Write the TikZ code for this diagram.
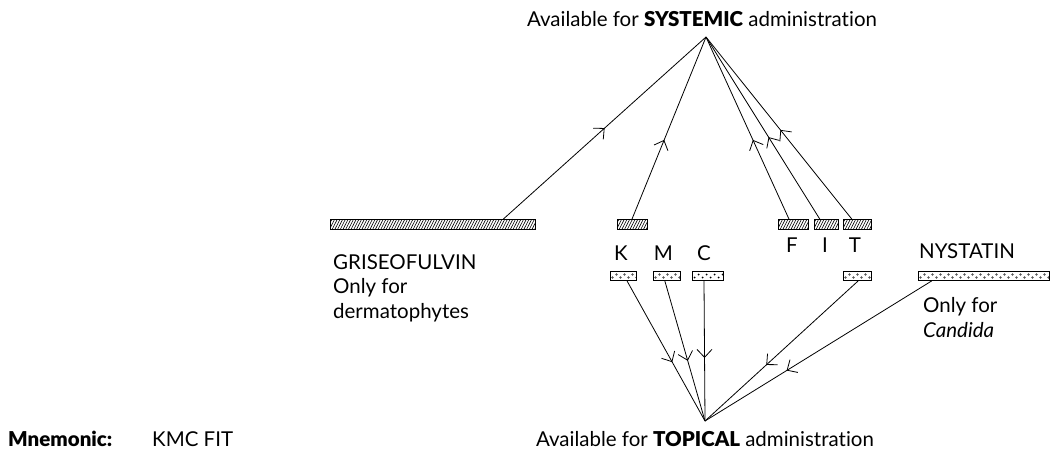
\documentclass[tikz,border=0pt]{standalone}
\usepackage{fontspec}
\setmainfont{Lato}[Ligatures=NoCommon, BoldFont={Lato Black}]
\usetikzlibrary{arrows.meta,decorations.markings,calc}
\newlength\reflen
\settowidth\reflen{\fontsize{10}{12}\selectfont Available for \textbf{SYSTEMIC} administration}
\pgfmathsetmacro\fsz{10*350/\reflen}
\begin{document}
\begin{tikzpicture}[x=1pt,y=-1pt,
  txt/.style={font=\fontsize{\fsz}{24.5}\selectfont, inner sep=0},
  hatchbar/.style={draw, line width=0.8pt, inner sep=0, minimum height=10pt,
    path picture={\foreach \i in {0,...,90}{\draw[line width=0.6pt] ([xshift=\i*2.7pt-6pt]path picture bounding box.south west) -- ++(63:14pt);}}},
  dotbar/.style={draw, line width=0.8pt, inner sep=0, minimum height=9pt,
    path picture={\foreach \i in {0,...,40}{\draw[line width=0.4pt] ([xshift=\i*4pt+2.5pt, yshift={(mod(\i,2)*2-1)*1.5pt}]path picture bounding box.west) circle[radius=0.9pt];}}},
  dotbarfill/.style={draw, line width=0.8pt, inner sep=0, minimum height=9pt,
    path picture={\foreach \i in {0,...,40}{\fill ([xshift=\i*4pt+2.5pt, yshift={(mod(\i,2)*2-1)*1.5pt}]path picture bounding box.west) circle[radius=1pt];}}},
  conn/.style={line width=0.8pt, postaction={decorate},
    decoration={markings, mark=at position #1 with {\arrow{Straight Barb[length=8pt,width=15pt,line width=0.8pt]}}}}
]
\useasboundingbox (0,0) rectangle (1050,453);

% labels
\node[txt, anchor=base] (sys) at (702,26) {Available for \textbf{SYSTEMIC} administration};
\node[txt, anchor=base] (top) at (705,446) {Available for \textbf{TOPICAL} administration};
\coordinate (sysapex) at (706,37);
\coordinate (topapex) at (705,421);
\node[txt, anchor=base west] (mnem) at (8,446) {\textbf{Mnemonic:}};
\node[txt, anchor=base west] (kmcfit) at (152,446) {KMC FIT};

% systemic bars
\node[hatchbar, minimum width=205pt] (gris) at (432.5,224.5) {};
\node[hatchbar, minimum width=30pt] (ksys) at (632,224.5) {};
\node[hatchbar, minimum width=30pt] (fsys) at (793,224.5) {};
\node[hatchbar, minimum width=24pt] (isys) at (826,224.5) {};
\node[hatchbar, minimum width=28pt] (tsys) at (857,224.5) {};

% topical bars
\node[dotbar, minimum width=26pt] (ktop) at (623,276) {};
\node[dotbar, minimum width=27pt] (mtop) at (666.5,276) {};
\node[dotbarfill, minimum width=31pt] (ctop) at (707.5,276) {};
\node[dotbar, minimum width=28pt] (ttop) at (857,276) {};
\node[dotbar, minimum width=131pt] (nys) at (983.5,276) {};

% letter labels
\node[txt, anchor=base] (lk) at (621,260) {K};
\node[txt, anchor=base] (lm) at (663.5,260) {M};
\node[txt, anchor=base] (lc) at (704,260) {C};
\node[txt, anchor=base] (lf) at (792,252) {F};
\node[txt, anchor=base] (li) at (825,252) {I};
\node[txt, anchor=base] (lt) at (855,252) {T};

% drug texts
\node[txt, anchor=base west, align=left] (gtxt) at (333,318) {GRISEOFULVIN\\Only for\\dermatophytes};
\node[txt, anchor=base west] (ntxt) at (919,258) {NYSTATIN};
\node[txt, anchor=base west, align=left] (ctxt) at (923,337) {Only for\\\textit{Candida}};

% systemic connectors
\draw[conn=0.5] ($(gris.north west)!0.844!(gris.north east)$) -- (sysapex);
\draw[conn=0.435] (ksys.north) -- (sysapex);
\draw[conn=0.435] ($(fsys.north west)!0.37!(fsys.north east)$) -- (sysapex);
\draw[conn=0.45] ($(isys.north west)!0.25!(isys.north east)$) -- (sysapex);
\draw[conn=0.49] ($(tsys.north west)!0.32!(tsys.north east)$) -- (sysapex);

% topical connectors
\draw[conn=0.58] ($(ktop.south west)!0.65!(ktop.south east)$) -- (topapex);
\draw[conn=0.57] ($(mtop.south west)!0.44!(mtop.south east)$) -- (topapex);
\draw[conn=0.55] ($(ctop.south west)!0.39!(ctop.south east)$) -- (topapex);
\draw[conn=0.6] ($(ttop.south west)!0.54!(ttop.south east)$) -- (topapex);
\draw[conn=0.64] ($(nys.south west)!0.107!(nys.south east)$) -- (topapex);
\end{tikzpicture}
\end{document}
